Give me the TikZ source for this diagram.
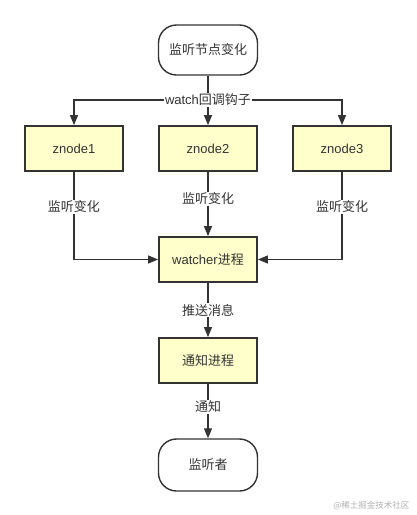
\documentclass[tikz,border=0pt]{standalone}
\usepackage{fontspec}
\setmainfont{Liberation Sans}
\newfontfamily\cjk{Noto Sans CJK SC}
\usetikzlibrary{arrows.meta}

\definecolor{boxyellow}{HTML}{FFFFCC}
\definecolor{linegray}{HTML}{333333}
\definecolor{textgray}{HTML}{333333}

\tikzset{
	proc/.style={draw=linegray, line width=1.8pt, fill=boxyellow, text=textgray, minimum width=98pt, minimum height=45pt},
	term/.style={draw=linegray, line width=1.4pt, rounded corners=18pt, text=textgray, minimum width=99pt, minimum height=50pt},
	flow/.style={-{Triangle[length=10pt,width=8pt]}, line width=1.2pt, draw=linegray},
	lab/.style={fill=white, inner sep=1pt, text=textgray}
}

\begin{document}
\begin{tikzpicture}[x=1pt, y=-1pt, font=\fontsize{13}{15}\selectfont]
	\useasboundingbox (0,0) rectangle (416,515);

	\node [term] (watchnode) at (208,50) {\cjk 监听节点变化};
	\node [proc] (znode1) at (74,148.5) {znode1};
	\node [proc] (znode2) at (208,148.5) {znode2};
	\node [proc] (znode3) at (342,148.5) {znode3};
	\node [proc] (watcher) at (208,259.5) {watcher{\cjk 进程}};
	\node [proc] (notify) at (208,360.5) {\cjk 通知进程};
	\node [term, minimum height=52pt] (listener) at (208,465) {\cjk 监听者};
	\coordinate (hook) at (208,100);

	% hook fan-out
	\draw [flow] (watchnode) -- (znode2);
	\draw [flow] (hook) -| (znode1);
	\draw [flow] (hook) -| (znode3);
	\node [lab] (hooklab) at (hook) {watch{\cjk 回调钩子}};

	% watcher inputs
	\draw [flow] (znode1) |- node[lab, pos=0.2] {\cjk 监听变化} (watcher);
	\draw [flow] (znode2) -- node[lab, pos=0.42] {\cjk 监听变化} (watcher);
	\draw [flow] (znode3) |- node[lab, pos=0.2] {\cjk 监听变化} (watcher);

	\draw [flow] (watcher) -- node[lab] {\cjk 推送消息} (notify);
	\draw [flow] (notify) -- node[lab, pos=0.42] {\cjk 通知} (listener);

	\node [anchor=east, text=black!30, font=\fontsize{8.5}{10}\selectfont\cjk] (mark) at (413,506) {@稀土掘金技术社区};
\end{tikzpicture}
\end{document}
